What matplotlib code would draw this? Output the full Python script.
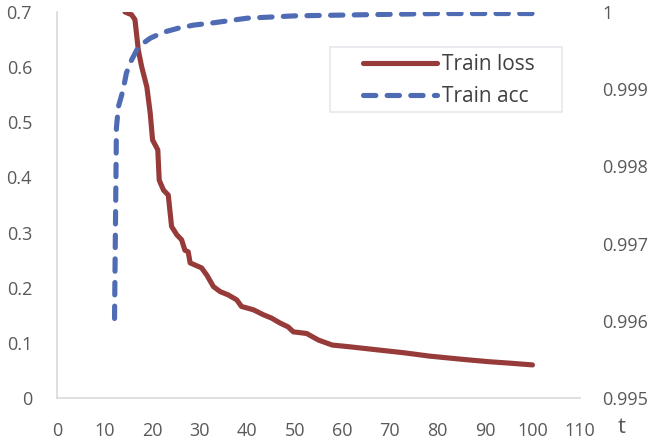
import matplotlib
matplotlib.use("Agg")
import matplotlib.pyplot as plt
from matplotlib.patches import Rectangle
from matplotlib.ticker import FuncFormatter, MultipleLocator

plt.rcParams['font.family'] = ['Open Sans', 'DejaVu Sans']

# training loss (left axis)
t_loss = [14.0, 14.3, 15.7, 16.4, 17.1, 17.8, 18.9, 19.6, 20.1, 21.2, 21.5,
          22.4, 23.4, 24.1, 25.2, 26.2, 26.9, 27.6, 28.0, 30.4, 31.5, 32.9,
          34.3, 36.0, 37.8, 38.8, 41.3, 43.4, 45.1, 46.9, 48.6, 49.7, 52.5,
          55.0, 57.9, 61.4, 67.7, 73.0, 78.3, 85.4, 90.6, 95.5, 100.0]
loss = [0.80, 0.700, 0.695, 0.686, 0.631, 0.601, 0.564, 0.517, 0.468, 0.450,
        0.395, 0.377, 0.368, 0.311, 0.296, 0.287, 0.268, 0.265, 0.245, 0.236,
        0.223, 0.202, 0.193, 0.187, 0.178, 0.166, 0.160, 0.151, 0.145, 0.136,
        0.129, 0.120, 0.117, 0.105, 0.096, 0.093, 0.087, 0.082, 0.076, 0.070,
        0.066, 0.063, 0.060]

# training accuracy (right axis)
t_acc = [12.1, 12.5, 12.9, 13.9, 14.6, 15.7, 16.8, 18.0, 19.6, 21.0, 23.1,
         25.5, 28.7, 32.9, 40, 50, 60, 70, 80, 90, 100]
acc = [0.99603, 0.99850, 0.99877, 0.99899, 0.99921, 0.99938, 0.99951,
       0.99959, 0.99966, 0.99970, 0.99975, 0.99979, 0.99983, 0.99986,
       0.99992, 0.99995, 0.99996, 0.99997, 0.99998, 0.99998, 0.99998]

red = '#963b39'
blue = '#4f6bb4'
grey = '#d9d9d9'
txt = '#595959'

fig = plt.figure(figsize=(6.6, 4.4), dpi=100)
ax = fig.add_axes([57/660, 42/440, 523/660, 386/440])
ax2 = ax.twinx()

l1, = ax.plot(t_loss, loss, color=red, lw=3.7, solid_capstyle='round',
              solid_joinstyle='round', label='Train loss')
l2, = ax2.plot(t_acc, acc, color=blue, lw=3.7, dashes=(2.4, 2.2),
               dash_capstyle='round', label='Train acc')

ax.set_xlim(0, 110)
ax.set_ylim(0, 0.7)
ax2.set_ylim(0.995, 1.0)
ax.xaxis.set_major_locator(MultipleLocator(10))
ax.yaxis.set_major_locator(MultipleLocator(0.1))
ax2.yaxis.set_major_locator(MultipleLocator(0.001))
fmt = FuncFormatter(lambda v, p: '{:g}'.format(round(v, 4)))
ax.yaxis.set_major_formatter(fmt)
ax2.yaxis.set_major_formatter(fmt)

for a in (ax, ax2):
    for s in ('top', 'right'):
        a.spines[s].set_visible(False)
    a.spines['left'].set_visible(a is ax)
    a.spines['bottom'].set_visible(a is ax)
ax.spines['left'].set_color(grey)
ax.spines['bottom'].set_color(grey)
ax.spines['left'].set_linewidth(1.2)
ax.spines['bottom'].set_linewidth(1.2)

ax.tick_params(axis='x', length=0, pad=17, labelsize=13, labelcolor=txt)
ax.tick_params(axis='y', length=0, pad=18, labelsize=13, labelcolor=txt)
ax2.tick_params(axis='y', length=0, pad=16, labelsize=13, labelcolor=txt)

fig.text(622/660, 1 - 427/440, 't', fontsize=16, color=txt,
         ha='center', va='center')

# legend box
fig.add_artist(Rectangle((330/660, 1 - 112/440), 232/660, 65/440,
                         transform=fig.transFigure, fill=False,
                         edgecolor='#e6e6ee', lw=1.2))
fig.legend([l1, l2], ['Train loss', 'Train acc'], loc='upper left',
           bbox_to_anchor=(363/660, 1 - 54/440), frameon=False,
           fontsize=15, handlelength=3.55, handletextpad=0.25,
           labelspacing=0.55, borderpad=0, borderaxespad=0,
           labelcolor='#404040')

fig.savefig('out.png', dpi=100)
